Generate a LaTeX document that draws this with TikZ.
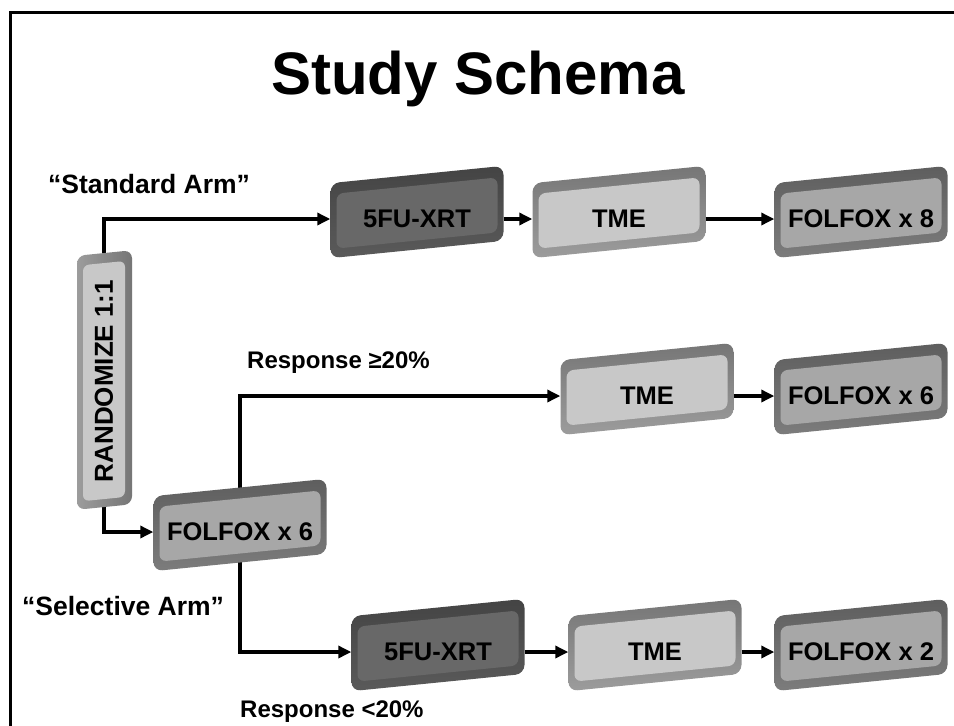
\documentclass[tikz,border=0pt]{standalone}
\usepackage{fontspec}
\setmainfont{Liberation Sans}
\usetikzlibrary{arrows.meta,backgrounds}

\definecolor{darkface}{HTML}{686868}
\definecolor{darktop}{HTML}{444444}
\definecolor{darkbot}{HTML}{5A5A5A}
\definecolor{midface}{HTML}{A7A7A7}
\definecolor{midtop}{HTML}{5E5E5E}
\definecolor{midbot}{HTML}{7C7C7C}
\definecolor{lightface}{HTML}{C8C8C8}
\definecolor{lighttop}{HTML}{767676}
\definecolor{lightbot}{HTML}{9C9C9C}

\tikzset{
  boxlabel/.style={inner sep=0pt, minimum width=173pt, minimum height=60pt,
    font=\bfseries\fontsize{25.5}{30}\selectfont},
  conn/.style={line width=3.8pt},
  arr/.style={conn, -{Triangle[length=13pt,width=12pt]}},
  caption/.style={inner sep=0pt, anchor=base west,
    font=\bfseries\fontsize{26.5}{30}\selectfont},
  respcap/.style={caption, font=\bfseries\fontsize{24}{28}\selectfont},
}

% bevelled, slightly slanted stage box: name, x, y of the text line, face, bevel top, bevel bottom, text
\newcommand\stagebox[7]{%
  \begin{scope}[shift={(#2,#3-7)},yslant=0.1]
    \shade[top color=#5,bottom color=#6,rounded corners=9pt]
      (-86.5,-37.5) rectangle (86.5,37.5);
    \fill[#4,rounded corners=7pt] (-80.5,-26.5) rectangle (80.5,28.5);
  \end{scope}
  \node[boxlabel] (#1) at (#2,#3) {#7};
}

\begin{document}
\begin{tikzpicture}[x=1pt,y=-1pt]
\useasboundingbox (0,0) rectangle (954,726);

% frame
\draw[line width=3pt] (10,740) -- (10,12) -- (970,12);

% title
\node[inner sep=0pt,anchor=base,font=\bfseries\fontsize{60}{70}\selectfont]
  (title) at (478,94) {Study Schema};

% randomisation box (upright)
\begin{scope}[shift={(104.5,380)},yslant=0.1]
  \shade[left color=lightbot,right color=lighttop,rounded corners=8pt]
    (-27.5,-127) rectangle (27.5,127);
  \fill[lightface,rounded corners=6pt] (-21.5,-117) rectangle (20.5,119);
\end{scope}
\node[inner sep=0pt,rotate=90,minimum width=254pt,minimum height=55pt,
  font=\bfseries\fontsize{26}{30}\selectfont] (rand) at (104,381) {RANDOMIZE 1:1};

% standard arm
\stagebox{fu1}{417}{219}{darkface}{darktop}{darkbot}{5FU-XRT}
\stagebox{tme1}{619}{219}{lightface}{lighttop}{lightbot}{TME}
\stagebox{fx8}{861}{219}{midface}{midtop}{midbot}{FOLFOX x 8}

% selective arm
\stagebox{f6}{240}{532}{midface}{midtop}{midbot}{FOLFOX x 6}
\stagebox{tme2}{647}{396}{lightface}{lighttop}{lightbot}{TME}
\stagebox{fx6}{861}{396}{midface}{midtop}{midbot}{FOLFOX x 6}
\stagebox{fu2}{438}{652}{darkface}{darktop}{darkbot}{5FU-XRT}
\stagebox{tme3}{655}{652}{lightface}{lighttop}{lightbot}{TME}
\stagebox{fx2}{861}{652}{midface}{midtop}{midbot}{FOLFOX x 2}

% captions
\node[caption] (std) at (48,193) {“Standard Arm”};
\node[caption] (sel) at (22,615) {“Selective Arm”};
\node[respcap] (hi) at (247,368) {Response ≥20\%};
\node[respcap] (lo) at (240,717) {Response <20\%};

% white page and branch connectors, tucked behind the boxes
\begin{scope}[on background layer]
  \fill[white] (0,0) rectangle (954,726);
  \draw[arr] (rand.center) |- (fu1.west);
  \draw[arr] (rand.center) |- (f6.west);
  \draw[arr] (f6.center) |- (tme2.west);
  \draw[arr] (f6.center) |- (fu2.west);
\end{scope}

% sequential steps
\draw[arr] (fu1.east) -- (tme1.west);
\draw[arr] (tme1.east) -- (fx8.west);
\draw[arr] (tme2.east) -- (fx6.west);
\draw[arr] (fu2.east) -- (tme3.west);
\draw[arr] (tme3.east) -- (fx2.west);
\end{tikzpicture}
\end{document}
